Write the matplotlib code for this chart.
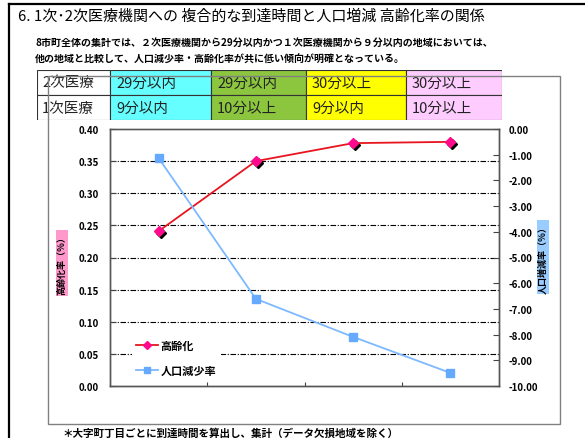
import matplotlib.pyplot as plt
import matplotlib.transforms as mtransforms
from matplotlib.patches import Rectangle
from matplotlib.lines import Line2D
from matplotlib.ticker import MultipleLocator, FormatStrFormatter

plt.rcParams['font.family'] = ['Noto Sans CJK JP', 'DejaVu Sans']

# ── datos ────────────────────────────────────────────────
title = "6. 1次･2次医療機関への 複合的な到達時間と人口増減 高齢化率の関係"
note_lines = ["8市町全体の集計では、２次医療機関から29分以内かつ１次医療機関から９分以内の地域においては、",
              "他の地域と比較して、人口減少率・高齢化率が共に低い傾向が明確となっている。"]
footer = "＊大字町丁目ごとに到達時間を算出し、集計（データ欠損地域を除く）"

row_labels = ["2次医療", "1次医療"]
secondary_time = ["29分以内", "29分以内", "30分以上", "30分以上"]
primary_time = ["9分以内", "10分以上", "9分以内", "10分以上"]
col_colors = ["#66FFFF", "#8CC63F", "#FFFF00", "#FFCCFF"]

aging_rate = [0.241, 0.350, 0.378, 0.380]
pop_change = [-1.13, -6.61, -8.09, -9.49]

# ── figura ───────────────────────────────────────────────
W, H = 585, 439
fig = plt.figure(figsize=(W / 100, H / 100), dpi=100)

def fx(px):
    return px / W

def fy(py):
    return 1 - py / H

# marco exterior
fig.add_artist(Line2D([fx(9), fx(9)], [fy(5), fy(439)], color="black", lw=1.6))
fig.add_artist(Line2D([fx(9), fx(585)], [fy(5), fy(5)], color="black", lw=1.6))
# marco del grafico
fig.add_artist(Rectangle((fx(48), fy(425)), fx(560) - fx(48), fy(77) - fy(425),
                         fill=False, ec="#808080", lw=1.0))

fig.text(fx(18), fy(17), title, fontsize=10.8, va="center", ha="left")
for i, line in enumerate(note_lines):
    fig.text(fx(35), fy(43 + 17 * i), line, fontsize=7.2, fontweight="bold",
             va="center", ha="left")
fig.text(fx(62), fy(434), footer, fontsize=7.6, fontweight="bold", va="center", ha="left")

# ── tabla de condiciones ─────────────────────────────────
tab = fig.add_axes([fx(37), fy(121), fx(502) - fx(37), fy(71) - fy(121)])
tab.set_xlim(37, 502)
tab.set_ylim(0, 2)
tab.axis("off")
edges = [37, 110, 211, 306, 406, 502]
rows = [secondary_time, primary_time]
for r, (lab, vals) in enumerate(zip(row_labels, rows)):
    y0 = 1 - r
    tab.add_patch(Rectangle((edges[0], y0), edges[1] - edges[0], 1, fc="white",
                            ec="#333333", lw=0.8))
    tab.text(edges[0] + 5, y0 + 0.5, lab, fontsize=10.5, va="center", ha="left",
             color="#222222")
    for c, v in enumerate(vals):
        tab.add_patch(Rectangle((edges[c + 1], y0), edges[c + 2] - edges[c + 1], 1,
                                fc=col_colors[c], ec="#333333", lw=0.8))
        tab.text(edges[c + 1] + 6, y0 + 0.5, v, fontsize=10.5, va="center",
                 ha="left", color="#222222")

# ── grafico principal ────────────────────────────────────
ax = fig.add_axes([fx(110), fy(387), fx(499) - fx(110), fy(130) - fy(387)])
ax2 = ax.twinx()
x = [0.5, 1.5, 2.5, 3.5]

ax.set_xlim(0, 4)
ax.set_ylim(0, 0.40)
ax.yaxis.set_major_locator(MultipleLocator(0.05))
ax.yaxis.set_major_formatter(FormatStrFormatter("%.2f"))
ax.set_xticks([1, 2, 3])
ax.set_xticklabels([])
ax.tick_params(axis="x", direction="in", length=3, color="#444444")
ax.tick_params(axis="y", direction="in", length=4, pad=8, labelsize=7,
               color="#444444")
for t in ax.get_yticklabels():
    t.set_fontweight("bold")
for yv in [0.05, 0.10, 0.15, 0.20, 0.25, 0.30, 0.35]:
    ax.axhline(yv, color="black", lw=0.8, dashes=(5, 1.5, 1, 1.5), zorder=1)

ax2.set_ylim(-10, 0)
ax2.yaxis.set_major_locator(MultipleLocator(1))
ax2.yaxis.set_major_formatter(FormatStrFormatter("%.2f"))
ax2.tick_params(axis="y", direction="in", length=4, pad=7, labelsize=7,
                color="#444444")
for t in ax2.get_yticklabels():
    t.set_fontweight("bold")

for a in (ax, ax2):
    for s in a.spines.values():
        s.set_color("#555555")
        s.set_linewidth(1.0)
ax.spines["top"].set_linestyle((0, (3, 1)))
ax.spines["top"].set_color("#888888")

# sombra negra de los marcadores
shadow = mtransforms.offset_copy(ax.transData, fig=fig, x=2, y=-2, units="dots")
ax.plot(x, aging_rate, ls="none", marker="D", ms=5, color="black",
        transform=shadow, zorder=3)
ax.plot(x, aging_rate, color="#E8141E", lw=1.3, marker="D", ms=5,
        mfc="#FF0A8C", mec="#FF0A8C", zorder=4)
ax2.plot(x, pop_change, color="#7DB9FF", lw=1.3, marker="s", ms=6,
         mfc="#66AAFF", mec="#66AAFF", zorder=4)

# ejes con fondo de color
fig.text(fx(62), fy(264), "高齢化率（％）", rotation=90, fontsize=6.5,
         fontweight="bold", va="center", ha="center",
         bbox=dict(boxstyle="square,pad=0.15", fc="#FF99CC", ec="none"))
fig.text(fx(543), fy(258), "人口増減率（％）", rotation=90, fontsize=6.5,
         fontweight="bold", va="center", ha="center",
         bbox=dict(boxstyle="square,pad=0.15", fc="#99CCFF", ec="none"))

# leyenda
h1 = Line2D([], [], color="#E8141E", lw=1.3, marker="D", ms=4,
            mfc="#FF0A8C", mec="#FF0A8C")
h2 = Line2D([], [], color="#7DB9FF", lw=1.3, marker="s", ms=5,
            mfc="#66AAFF", mec="#66AAFF")
leg = ax2.legend([h1, h2], ["高齢化", "人口減少率"], loc="upper left",
                 bbox_to_anchor=(0.013, 0.266), frameon=True, fancybox=False,
                 edgecolor="none", facecolor="white", framealpha=1,
                 prop=dict(size=8, weight="bold"), handlelength=2.0,
                 handletextpad=0.2, labelspacing=1.1, borderpad=0.4,
                 borderaxespad=1.5)

plt.savefig("out.png", dpi=100)
plt.close()
